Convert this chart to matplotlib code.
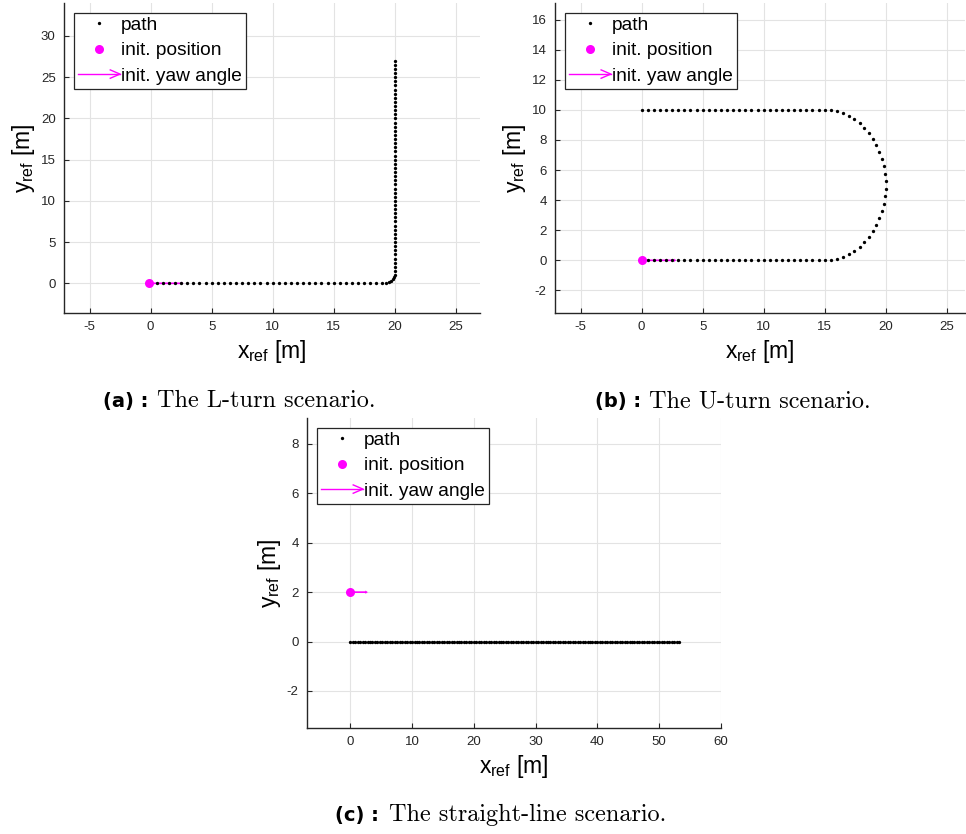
import numpy as np
import matplotlib
matplotlib.use('Agg')
import matplotlib.pyplot as plt
from matplotlib.lines import Line2D
from matplotlib.legend_handler import HandlerBase

# ---------------------------------------------------------------
# Reference path definitions (all lengths in metres)
point_step = 0.5          # spacing of the path samples for L/U turn
straight_step = 0.4       # spacing of the path samples for the straight line
yaw_arrow_len = 2.85      # length of the arrow drawn for the initial yaw

# L-turn: straight along x, 90 deg bend, straight along y
lturn_corners = [(0.0, 0.0), (19.0, 0.0)]
lturn_bend_center = (19.0, 1.0)
lturn_bend_radius = 1.0
lturn_end = (20.0, 27.0)
lturn_init_pos = (-0.15, 0.0)

# U-turn: straight along x, half circle, straight back
uturn_corners = [(0.0, 0.0), (15.0, 0.0)]
uturn_bend_center = (15.0, 5.0)
uturn_bend_radius = 5.0
uturn_end = (0.0, 10.0)
uturn_init_pos = (0.0, 0.0)

# straight line
sline_start = (0.0, 0.0)
sline_end = (53.2, 0.0)
sline_init_pos = (0.0, 2.0)
# ---------------------------------------------------------------


def straight(p0, p1, ds):
    n = max(int(round(np.hypot(p1[0] - p0[0], p1[1] - p0[1]) / ds)), 1)
    t = np.arange(n + 1) / n
    return p0[0] + t * (p1[0] - p0[0]), p0[1] + t * (p1[1] - p0[1])


def bend(center, r, a0, a1, ds):
    n = max(int(round(abs(a1 - a0) * r / ds)), 1)
    a = a0 + (a1 - a0) * np.arange(n + 1) / n
    return center[0] + r * np.cos(a), center[1] + r * np.sin(a)


def join(*parts):
    xs, ys = [parts[0][0]], [parts[0][1]]
    for px, py in parts[1:]:
        xs.append(px[1:])
        ys.append(py[1:])
    return np.concatenate(xs), np.concatenate(ys)


lturn_x, lturn_y = join(
    straight(lturn_corners[0], lturn_corners[1], point_step),
    bend(lturn_bend_center, lturn_bend_radius, -np.pi / 2, 0.0, point_step / 2),
    straight((20.0, 1.0), lturn_end, point_step))

uturn_x, uturn_y = join(
    straight(uturn_corners[0], uturn_corners[1], point_step),
    bend(uturn_bend_center, uturn_bend_radius, -np.pi / 2, np.pi / 2, point_step),
    straight((15.0, 10.0), uturn_end, point_step))

sline_x, sline_y = straight(sline_start, sline_end, straight_step)


class YawArrowHandler(HandlerBase):
    # legend entry: magenta line with an open arrow head
    def create_artists(self, legend, orig_handle, xdescent, ydescent,
                       width, height, fontsize, trans):
        y = height / 2 - ydescent
        x0, x1 = -xdescent, width - xdescent
        shaft = Line2D([x0, x1], [y, y], color='magenta', lw=1.0)
        head = Line2D([x1 - 7, x1, x1 - 7], [y + 3, y, y - 3],
                      color='magenta', lw=1.0)
        shaft.set_transform(trans)
        head.set_transform(trans)
        return [shaft, head]


plt.rcParams['font.family'] = 'Liberation Sans'
plt.rcParams['mathtext.fontset'] = 'custom'
plt.rcParams['mathtext.rm'] = 'Liberation Sans'
plt.rcParams['mathtext.it'] = 'Liberation Sans:italic'
plt.rcParams['axes.unicode_minus'] = False

W, H = 966, 834
fig = plt.figure(figsize=(W / 100, H / 100), dpi=100, facecolor='white')

axcol = '#262626'


def make_axes(left, top, right, bottom):
    ax = fig.add_axes([left / W, 1 - bottom / H, (right - left) / W, (bottom - top) / H])
    for side in ('top', 'right'):
        ax.spines[side].set_visible(False)
    for side in ('left', 'bottom'):
        ax.spines[side].set_color(axcol)
        ax.spines[side].set_linewidth(1.0)
    ax.tick_params(direction='in', length=3.5, width=0.8, colors=axcol,
                   labelsize=9.5, pad=6)
    ax.grid(True, color='#e3e3e3', lw=0.8)
    ax.set_axisbelow(True)
    ax.set_xlabel(r'x$_{\mathrm{ref}}$ [m]', fontsize=16.5, color='black', labelpad=3)
    ax.set_ylabel(r'y$_{\mathrm{ref}}$ [m]', fontsize=16.5, color='black', labelpad=3)
    return ax


def draw_scenario(ax, px, py, init_pos):
    ax.quiver(init_pos[0], init_pos[1], yaw_arrow_len, 0.0, angles='xy',
              scale_units='xy', scale=1, color='magenta', width=0.004,
              headwidth=2.0, headlength=1.5, headaxislength=1.5, zorder=2)
    ax.plot(px, py, linestyle='none', marker='o', ms=2.4, color='black',
            markeredgewidth=0, zorder=3)
    ax.plot(init_pos[0], init_pos[1], linestyle='none', marker='o', ms=6.5,
            color='magenta', markeredgewidth=0, zorder=4)

    handles = [
        Line2D([], [], linestyle='none', marker='o', ms=2.4, color='black', markeredgewidth=0),
        Line2D([], [], linestyle='none', marker='o', ms=6.5, color='magenta', markeredgewidth=0),
        Line2D([], [], color='magenta'),
    ]
    labels = ['path', 'init. position', 'init. yaw angle']
    leg = ax.legend(handles, labels, loc='upper left', bbox_to_anchor=(0.024, 0.969),
                    borderaxespad=0, fontsize=13.8, frameon=True, fancybox=False,
                    framealpha=1, edgecolor=axcol, borderpad=0.2, handlelength=2.2,
                    handletextpad=0.05, labelspacing=0.42,
                    handler_map={handles[2]: YawArrowHandler()})
    leg.get_frame().set_linewidth(0.9)


# (a) L-turn
ax_a = make_axes(64, 3, 480, 313)
draw_scenario(ax_a, lturn_x, lturn_y, lturn_init_pos)
ax_a.set_xlim(-7.1, 27)
ax_a.set_ylim(-3.6, 34)
ax_a.set_xticks([-5, 0, 5, 10, 15, 20, 25])
ax_a.set_yticks([0, 5, 10, 15, 20, 25, 30])

# (b) U-turn
ax_b = make_axes(555, 3, 965, 313)
draw_scenario(ax_b, uturn_x, uturn_y, uturn_init_pos)
ax_b.set_xlim(-7.1, 26.5)
ax_b.set_ylim(-3.5, 17.1)
ax_b.set_xticks([-5, 0, 5, 10, 15, 20, 25])
ax_b.set_yticks(np.arange(-2, 17, 2))

# (c) straight line
ax_c = make_axes(307, 418, 721, 728)
draw_scenario(ax_c, sline_x, sline_y, sline_init_pos)
ax_c.set_xlim(-7, 60)
ax_c.set_ylim(-3.5, 9.05)
ax_c.set_xticks([0, 10, 20, 30, 40, 50, 60])
ax_c.set_yticks([-2, 0, 2, 4, 6, 8])


def caption(x, y, tag, text):
    fig.text(x / W, 1 - y / H, tag, fontsize=14, fontweight='bold',
             family='DejaVu Sans', va='baseline', ha='left')
    fig.text((x + 54) / W, 1 - y / H, text, fontsize=17.5,
             family='cmr10', va='baseline', ha='left')


caption(103, 407, '(a) :', 'The L-turn scenario.')
caption(595, 407, '(b) :', 'The U-turn scenario.')
caption(335, 821, '(c) :', 'The straight-line scenario.')

fig.savefig('out.png', dpi=100, facecolor='white')
